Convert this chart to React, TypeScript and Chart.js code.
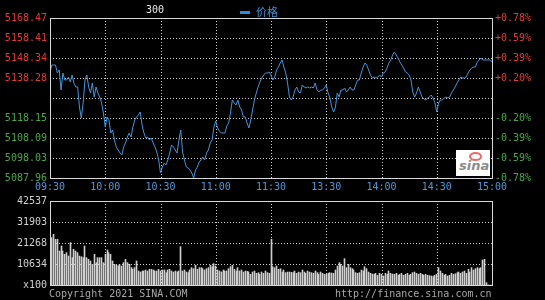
import React, { useEffect, useRef } from 'react';
import { Chart, registerables } from 'chart.js';

Chart.register(...registerables);

// ---------- data ----------
const timeLabels = ['09:30', '10:00', '10:30', '11:00', '11:30', '13:30', '14:00', '14:30', '15:00'];
const timeTickMinutes = [0, 30, 60, 90, 120, 150, 180, 210, 240];

const priceTicks = [5087.96, 5098.03, 5108.09, 5118.15, 5128.22, 5138.28, 5148.34, 5158.41, 5168.47];
const priceTickLabels = ['5087.96', '5098.03', '5108.09', '5118.15', '', '5138.28', '5148.34', '5158.41', '5168.47'];
const pctTickLabels = ['-0.78%', '-0.59%', '-0.39%', '-0.20%', '', '+0.20%', '+0.39%', '+0.59%', '+0.78%'];

// one value per minute, 09:30 .. 15:00 (241 minutes)
const prices = [
  5141.30, 5144.82, 5144.82, 5144.82, 5140.79, 5142.30, 5132.24, 5140.79, 5137.27, 5137.27,
  5138.78, 5136.27, 5139.79, 5135.76, 5133.75, 5133.75, 5123.69, 5118.15, 5125.70, 5137.27,
  5139.79, 5133.75, 5130.73, 5135.76, 5128.72, 5133.75, 5130.73, 5128.72, 5125.70, 5120.67,
  5113.62, 5118.65, 5117.15, 5110.60, 5112.11, 5107.08, 5103.56, 5102.05, 5100.54, 5099.53,
  5103.56, 5105.57, 5108.59, 5110.60, 5108.59, 5113.62, 5117.15, 5118.65, 5119.66, 5121.17,
  5114.63, 5110.60, 5108.09, 5108.59, 5107.08, 5108.09, 5105.57, 5103.56, 5101.04, 5097.02,
  5090.48, 5093.50, 5095.51, 5094.50, 5097.02, 5100.54, 5104.57, 5103.56, 5102.05, 5100.54,
  5107.08, 5112.11, 5101.04, 5097.02, 5093.50, 5092.99, 5091.99, 5090.48, 5087.96, 5091.99,
  5093.50, 5096.01, 5097.02, 5098.53, 5097.02, 5100.54, 5102.05, 5105.57, 5107.08, 5113.62,
  5116.64, 5113.12, 5111.61, 5110.60, 5110.60, 5110.60, 5114.13, 5115.64, 5120.67, 5127.21,
  5125.70, 5124.69, 5127.21, 5123.69, 5122.18, 5118.65, 5118.65, 5115.64, 5113.12, 5117.15,
  5122.18, 5127.21, 5130.73, 5133.75, 5136.27, 5138.28, 5139.79, 5140.79, 5140.79, 5141.30,
  5139.79, 5137.27, 5138.78, 5142.30, 5143.81, 5145.83, 5147.34, 5143.81, 5140.79, 5135.76,
  5128.72, 5127.21, 5128.72, 5132.24, 5133.75, 5131.23, 5130.73, 5134.76, 5133.75, 5133.25,
  5133.75, 5133.25, 5133.75, 5133.25, 5135.76, 5132.24, 5131.23, 5132.24, 5132.24, 5133.25,
  5134.76, 5130.73, 5128.22, 5123.69, 5121.17, 5123.69, 5130.73, 5128.72, 5132.24, 5132.24,
  5133.25, 5131.23, 5132.24, 5133.75, 5132.24, 5132.24, 5134.76, 5137.27, 5137.27, 5140.79,
  5143.81, 5145.83, 5144.82, 5142.30, 5139.79, 5138.28, 5138.78, 5138.28, 5138.78, 5139.79,
  5138.78, 5140.79, 5141.30, 5143.31, 5145.83, 5147.34, 5149.85, 5151.36, 5149.85, 5148.34,
  5146.33, 5144.82, 5143.31, 5141.30, 5140.79, 5139.79, 5137.27, 5131.23, 5128.72, 5130.73,
  5133.75, 5131.23, 5128.72, 5127.71, 5127.21, 5128.22, 5128.72, 5129.72, 5128.22, 5125.70,
  5121.17, 5125.70, 5127.21, 5127.21, 5128.22, 5128.72, 5128.22, 5128.72, 5130.73, 5132.24,
  5133.75, 5135.76, 5137.27, 5138.78, 5138.28, 5138.28, 5138.78, 5140.79, 5142.30, 5143.31,
  5143.81, 5143.81, 5146.33, 5147.34, 5148.34, 5147.34, 5147.34, 5147.34, 5147.34, 5147.34,
  5146.33,
];

const volumeTicks = [0, 10634, 21268, 31903, 42537];
const volumeTickLabels = ['x100', '10634', '21268', '31903', '42537'];

const volumes = [
  22280, 23970, 25660, 23130, 23130, 17220, 19750, 17220, 15530, 16370,
  14690, 21440, 13840, 18060, 17220, 16370, 14690, 14300, 13840, 19750,
  13840, 13000, 12150, 10470, 15530, 11310, 13840, 13840, 13840, 11310,
  15530, 17720, 16370, 15530, 12150, 10470, 9960, 9620, 10470, 9620,
  11310, 13000, 11310, 10470, 8780, 7930, 8780, 12150, 7090, 6580,
  7090, 7090, 7600, 7090, 7930, 7930, 7600, 7090, 7090, 7930,
  7090, 7600, 7600, 6250, 7600, 7930, 7090, 6580, 7090, 6580,
  7090, 19410, 7090, 7600, 6580, 6250, 7600, 8780, 8270, 9960,
  7930, 8780, 8780, 8270, 7600, 8270, 8780, 9960, 9280, 10800,
  9620, 7600, 7090, 6580, 7600, 7090, 7090, 8270, 9280, 9960,
  7930, 7090, 8780, 7090, 7600, 6580, 7090, 6900, 6580, 5400,
  6580, 7090, 5910, 6250, 5400, 6580, 5910, 7090, 6250, 5910,
  23130, 9280, 8780, 9620, 7930, 8270, 6580, 7600, 6250, 6580,
  6580, 6400, 6250, 7090, 5910, 6580, 6250, 7600, 6580, 5910,
  7090, 6580, 6250, 5910, 7090, 6250, 5400, 6580, 5910, 5400,
  5400, 5910, 6250, 6080, 5910, 7600, 9620, 11310, 10470, 9620,
  13340, 8780, 10470, 8780, 8270, 7600, 6250, 5910, 6250, 7600,
  7090, 9280, 8270, 6580, 5910, 5570, 5400, 5910, 4900, 5910,
  5400, 4560, 5910, 5400, 7090, 5910, 5570, 5400, 5910, 4900,
  5400, 5910, 4900, 5400, 5910, 4900, 5400, 6250, 6580, 5910,
  5400, 5910, 5400, 4900, 5400, 4900, 4730, 4560, 4220, 4900,
  5400, 8780, 7090, 5910, 4900, 5400, 4560, 4900, 5910, 5400,
  5740, 6250, 6580, 5910, 6580, 7090, 5910, 7930, 6580, 8780,
  7600, 8270, 8780, 8270, 8780, 12660, 13000, 1180, 0, 0,
  0,
];

// ---------- styles ----------
const MONO = '"DejaVu Sans Mono", monospace';
const GRID_COLOR = '#d0d0d0';
const FRAME_COLOR = '#d8d8d8';
const RED = '#e23a36';
const GREEN = '#48a848';
const TIME_BLUE = '#4f97d9';
const LINE_BLUE = '#4294da';
const VOL_GREY = '#cfcfcf';

// dotted grid drawn at the scales' own tick positions
const dotGridPlugin = {
  id: 'dotGrid',
  beforeDatasetsDraw(chart: any) {
    const { ctx, chartArea: a, scales } = chart;
    ctx.save();
    ctx.strokeStyle = GRID_COLOR;
    ctx.lineWidth = 1;
    ctx.setLineDash([1, 2]);
    scales.x.ticks.forEach((t: any) => {
      const px = Math.round(scales.x.getPixelForValue(t.value)) + 0.5;
      ctx.beginPath();
      ctx.moveTo(px, a.top);
      ctx.lineTo(px, a.bottom);
      ctx.stroke();
    });
    scales.y.ticks.forEach((t: any) => {
      const py = Math.round(scales.y.getPixelForValue(t.value)) + 0.5;
      ctx.beginPath();
      ctx.moveTo(a.left, py);
      ctx.lineTo(a.right, py);
      ctx.stroke();
    });
    ctx.restore();
  },
};

const framePlugin = {
  id: 'frame',
  afterDraw(chart: any) {
    const { ctx, chartArea } = chart;
    ctx.save();
    ctx.strokeStyle = FRAME_COLOR;
    ctx.lineWidth = 1;
    ctx.setLineDash([]);
    ctx.strokeRect(
      Math.round(chartArea.left) + 0.5,
      Math.round(chartArea.top) + 0.5,
      Math.round(chartArea.right - chartArea.left),
      Math.round(chartArea.bottom - chartArea.top)
    );
    ctx.restore();
  },
};

// snap 1px bars onto whole pixels so they stay crisp
const crispBarsPlugin = {
  id: 'crispBars',
  beforeDatasetsDraw(chart: any) {
    const meta = chart.getDatasetMeta(0);
    meta.data.forEach((el: any) => {
      el.x = Math.floor(el.x) + 0.5;
    });
  },
};

const xTicksFromMinutes = (s: any) => {
  s.ticks = timeTickMinutes.map((v) => ({ value: v }));
};

export default function App() {
  const priceRef = useRef<HTMLCanvasElement | null>(null);
  const volRef = useRef<HTMLCanvasElement | null>(null);

  useEffect(() => {
    const font = { family: MONO, size: 10 };
    const tickColor = (c: any) => (c.index < 4 ? GREEN : RED);

    const priceChart = new Chart(priceRef.current as HTMLCanvasElement, {
      type: 'line',
      data: {
        datasets: [
          {
            label: '价格',
            data: prices.map((p, i) => ({ x: i, y: p })),
            borderColor: LINE_BLUE,
            borderWidth: 1,
            pointRadius: 0,
            tension: 0,
            fill: false,
          },
        ],
      },
      options: {
        animation: false,
        responsive: false,
        devicePixelRatio: 1,
        layout: { padding: { top: 18, left: 0, right: 0, bottom: 0 } },
        plugins: { legend: { display: false }, tooltip: { enabled: false } },
        scales: {
          x: {
            type: 'linear',
            min: 0,
            max: 240,
            afterBuildTicks: xTicksFromMinutes,
            afterFit: (s: any) => {
              s.height = 22;
            },
            ticks: {
              autoSkip: false,
              maxRotation: 0,
              padding: 3,
              color: TIME_BLUE,
              font,
              callback: (_v: any, i: number) => timeLabels[i],
            },
            grid: { display: false, drawTicks: false },
            border: { display: false },
          },
          y: {
            type: 'linear',
            position: 'left',
            min: priceTicks[0],
            max: priceTicks[priceTicks.length - 1],
            afterBuildTicks: (s: any) => {
              s.ticks = priceTicks.map((v) => ({ value: v }));
            },
            afterFit: (s: any) => {
              s.width = 50;
            },
            ticks: {
              autoSkip: false,
              padding: 3,
              color: tickColor,
              font,
              callback: (_v: any, i: number) => priceTickLabels[i],
            },
            grid: { display: false, drawTicks: false },
            border: { display: false },
          },
          y2: {
            type: 'linear',
            position: 'right',
            min: priceTicks[0],
            max: priceTicks[priceTicks.length - 1],
            afterBuildTicks: (s: any) => {
              s.ticks = priceTicks.map((v) => ({ value: v }));
            },
            afterFit: (s: any) => {
              s.width = 53;
            },
            ticks: {
              autoSkip: false,
              padding: 3,
              color: tickColor,
              font,
              callback: (_v: any, i: number) => pctTickLabels[i],
            },
            grid: { display: false, drawTicks: false },
            border: { display: false },
          },
        },
      },
      plugins: [dotGridPlugin, framePlugin],
    } as any);

    const volChart = new Chart(volRef.current as HTMLCanvasElement, {
      type: 'bar',
      data: {
        datasets: [
          {
            label: 'volume',
            data: volumes.map((v, i) => ({ x: i, y: v })),
            backgroundColor: VOL_GREY,
            borderWidth: 0,
            barThickness: 1,
          },
        ],
      },
      options: {
        animation: false,
        responsive: false,
        devicePixelRatio: 1,
        layout: { padding: { top: 11, left: 0, right: 53, bottom: 0 } },
        plugins: { legend: { display: false }, tooltip: { enabled: false } },
        scales: {
          x: {
            type: 'linear',
            min: 0,
            max: 240,
            offset: false,
            afterBuildTicks: xTicksFromMinutes,
            afterFit: (s: any) => {
              s.height = 15;
            },
            ticks: { display: false },
            grid: { display: false, offset: false, drawTicks: false },
            border: { display: false },
          },
          y: {
            type: 'linear',
            position: 'left',
            min: volumeTicks[0],
            max: volumeTicks[volumeTicks.length - 1],
            afterBuildTicks: (s: any) => {
              s.ticks = volumeTicks.map((v) => ({ value: v }));
            },
            afterFit: (s: any) => {
              s.width = 50;
            },
            ticks: {
              autoSkip: false,
              padding: 3,
              color: '#d0d0d0',
              font,
              callback: (_v: any, i: number) => volumeTickLabels[i],
            },
            grid: { display: false, drawTicks: false },
            border: { display: false },
          },
        },
      },
      plugins: [dotGridPlugin, crispBarsPlugin, framePlugin],
    } as any);

    return () => {
      priceChart.destroy();
      volChart.destroy();
    };
  }, []);

  const text = (extra: React.CSSProperties): React.CSSProperties => ({
    position: 'absolute',
    fontFamily: MONO,
    fontSize: 10,
    lineHeight: '12px',
    whiteSpace: 'nowrap',
    ...extra,
  });

  return (
    <div
      style={{
        position: 'fixed',
        left: 0,
        top: 0,
        width: 545,
        height: 300,
        background: '#000',
        overflow: 'hidden',
      }}
    >
      <canvas ref={priceRef} width={545} height={200} style={{ position: 'absolute', left: 0, top: 0 }} />
      <canvas ref={volRef} width={545} height={110} style={{ position: 'absolute', left: 0, top: 190 }} />

      <div style={text({ left: 146, top: 4, color: '#e8e8e8' })}>300</div>
      <div style={{ position: 'absolute', left: 240, top: 11, width: 10, height: 3, background: '#2f8bd3' }} />
      <div
        style={text({
          left: 256,
          top: 5,
          color: '#3d8fd6',
          fontFamily: '"Noto Sans CJK SC", sans-serif',
          fontSize: 11,
          lineHeight: '13px',
        })}
      >
        价格
      </div>

      <div style={{ position: 'absolute', left: 456, top: 150, width: 34, height: 26, background: '#fff' }}>
        <div
          style={{
            position: 'absolute',
            left: 13,
            top: 2,
            width: 9,
            height: 5,
            borderRadius: '50%',
            border: '2px solid #ea6a6a',
          }}
        />
        <div
          style={text({
            left: 3,
            top: 9,
            color: '#8c8c8c',
            fontFamily: '"DejaVu Sans", sans-serif',
            fontStyle: 'italic',
            fontWeight: 'bold',
            fontSize: 13,
            lineHeight: '14px',
          })}
        >
          sina
        </div>
      </div>

      <div style={text({ left: 49, top: 288, color: '#a8a8a8' })}>Copyright 2021 SINA.COM</div>
      <div style={text({ left: 335, top: 288, color: '#a8a8a8' })}>http://finance.sina.com.cn</div>
    </div>
  );
}
